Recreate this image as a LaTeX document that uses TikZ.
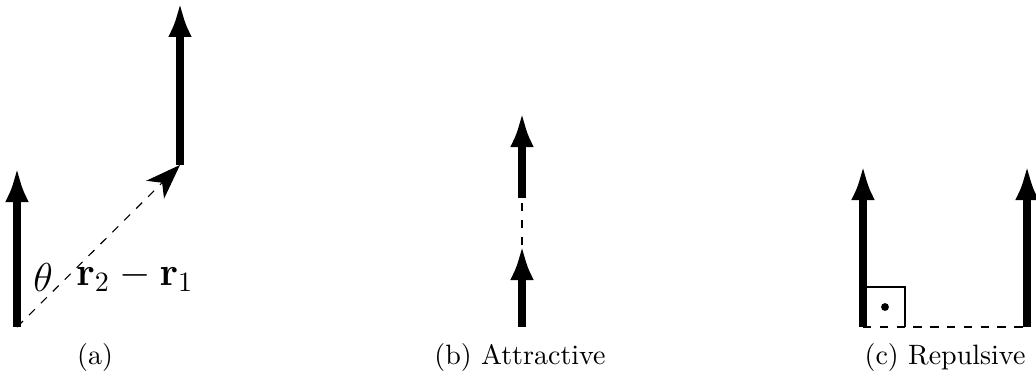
\documentclass[tikz,border=0pt]{standalone}
\usetikzlibrary{arrows.meta}
\begin{document}
\begin{tikzpicture}[x=0.3571pt,y=-0.3571pt,
  spin/.style={line width=2.8pt,-{Latex[length=12.5pt,width=8.5pt]}},
  link/.style={dashed,line width=0.4pt},
  linkarrow/.style={dashed,line width=0.4pt,-{Stealth[length=12.5pt,width=9pt,inset=3.5pt]}},
  captext/.style={font=\normalsize,inner sep=0pt}]
\useasboundingbox (0,0) rectangle (1036,387);

% (a)
\coordinate (a1s) at (17,327); \coordinate (a1e) at (17,167);
\coordinate (a2s) at (180,165); \coordinate (a2e) at (180,2);
\draw[spin] (a1s) -- (a1e);
\draw[spin] (a2s) -- (a2e);
\draw[linkarrow] (a1s) -- (a2s);
\node[font=\Large,inner sep=0pt] (theta) at (43,277) {$\theta$};
\node[font=\Large,inner sep=0pt] (rdiff) at (135,277) {$\mathbf{r}_2-\mathbf{r}_1$};
\node[captext] (capa) at (95,357) {(a)};

% (b)
\coordinate (b1s) at (522,327); \coordinate (b1e) at (522,245);
\coordinate (b2s) at (522,198); \coordinate (b2e) at (522,112);
\draw[spin] (b1s) -- (b1e);
\draw[spin] (b2s) -- (b2e);
\draw[link] (b1e) -- (b2s);
\node[captext] (capb) at (520,357) {(b) Attractive};

% (c)
\coordinate (c1s) at (863,327); \coordinate (c1e) at (863,165);
\coordinate (c2s) at (1027,327); \coordinate (c2e) at (1027,165);
\draw[spin] (c1s) -- (c1e);
\draw[spin] (c2s) -- (c2e);
\draw[link] (c1s) -- (c2s);
\draw[line width=0.5pt] (866,327) -- (866,287) -- (905,287) -- (905,327);
\fill (885,307) circle (1.4pt);
\node[captext] (capc) at (945,357) {(c) Repulsive};
\end{tikzpicture}
\end{document}
